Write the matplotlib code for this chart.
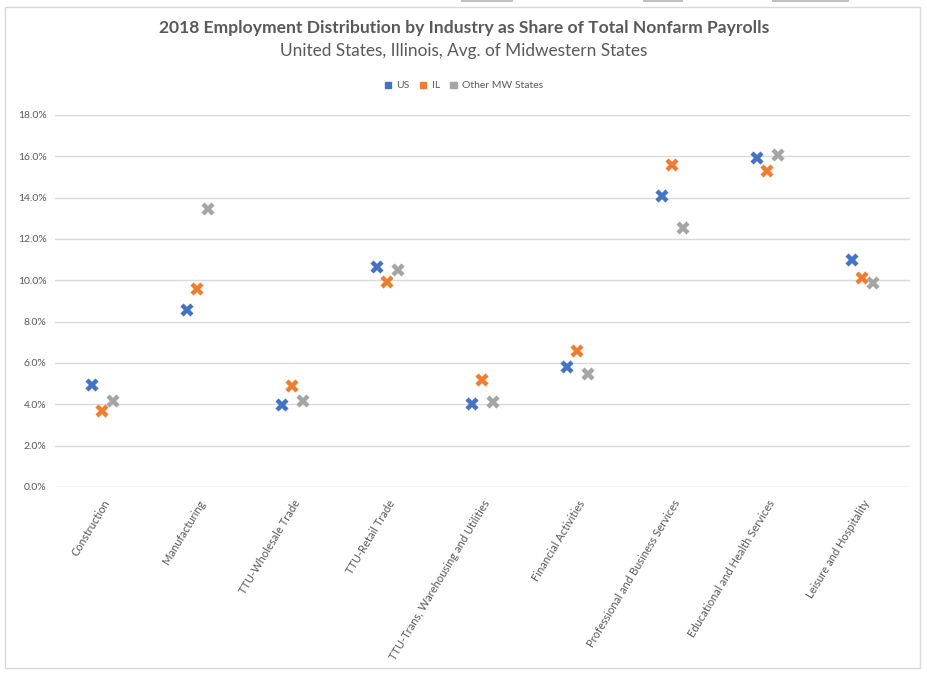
import matplotlib
matplotlib.use("Agg")
import matplotlib.pyplot as plt
from matplotlib.patches import Rectangle
import numpy as np

categories = ["Construction", "Manufacturing", "TTU-Wholesale Trade", "TTU-Retail Trade",
              "TTU-Trans, Warehousing and Utilities", "Financial Activities",
              "Professional and Business Services", "Educational and Health Services",
              "Leisure and Hospitality"]
us = [4.95, 8.55, 3.95, 10.65, 4.0, 5.8, 14.1, 15.9, 11.0]
il = [3.7, 9.6, 4.9, 9.9, 5.2, 6.6, 15.6, 15.3, 10.1]
other = [4.15, 13.45, 4.15, 10.5, 4.1, 5.45, 12.55, 16.05, 9.85]
series_names = ["US", "IL", "Other MW States"]
colors = ["#4472C4", "#ED7D31", "#A5A5A5"]
yticks = np.arange(0, 18.01, 2.0)

plt.rcParams['font.family'] = ['Lato', 'DejaVu Sans']
fig = plt.figure(figsize=(9.28, 6.75), dpi=100)
W, H = 928, 675
fig.patches.append(Rectangle((5/W, 1-668/H), 915/W, 661/H, transform=fig.transFigure,
                             fill=False, edgecolor="#d9d9d9", lw=1))
for x0, x1 in [(461, 513), (643, 683), (772, 849)]:
    fig.patches.append(Rectangle((x0/W, 1-2/H), (x1-x0)/W, 2/H, transform=fig.transFigure,
                                 facecolor="#c0c0c0", edgecolor="none"))
ax = fig.add_axes([55/W, 1-487/H, 855/W, 372/H])
x = np.arange(len(categories))
offs = [-0.11, 0.0, 0.11]
for vals, name, c, o in zip([us, il, other], series_names, colors, offs):
    ax.plot(x + o, vals, linestyle="none", marker="x", markersize=7, mew=3.2, color=c, label=name)

ax.set_xlim(-0.5, len(categories) - 0.5)
ax.set_ylim(0, 18)
ax.set_yticks(yticks)
ax.set_yticklabels([f"{v:.1f}%" for v in yticks], fontsize=7.5, color="#595959")
ax.set_xticks(x)
ax.set_xticklabels(categories, rotation=59, ha="right", rotation_mode="anchor",
                   fontsize=8, color="#595959")
ax.tick_params(axis="x", length=0, pad=8)
ax.tick_params(axis="y", length=0, pad=6)
ax.grid(axis="y", color="#d9d9d9", lw=1)
ax.set_axisbelow(True)
for s in ax.spines.values():
    s.set_visible(False)

fig.text(0.5, 1-28/H, "2018 Employment Distribution by Industry as Share of Total Nonfarm Payrolls",
         ha="center", va="center", fontsize=12.6, fontweight="bold", color="#595959")
fig.text(0.5, 1-51/H, "United States, Illinois, Avg. of Midwestern States",
         ha="center", va="center", fontsize=12.4, color="#595959")
handles = [Rectangle((0, 0), 1, 1, color=c) for c in colors]
fig.legend(handles, series_names, loc="center", bbox_to_anchor=(0.5, 1-86/H), ncol=3,
           frameon=False, fontsize=7.5, handlelength=0.6, handleheight=0.6,
           columnspacing=1.0, handletextpad=0.5, labelcolor="#595959")
fig.savefig("out.png", dpi=100)
